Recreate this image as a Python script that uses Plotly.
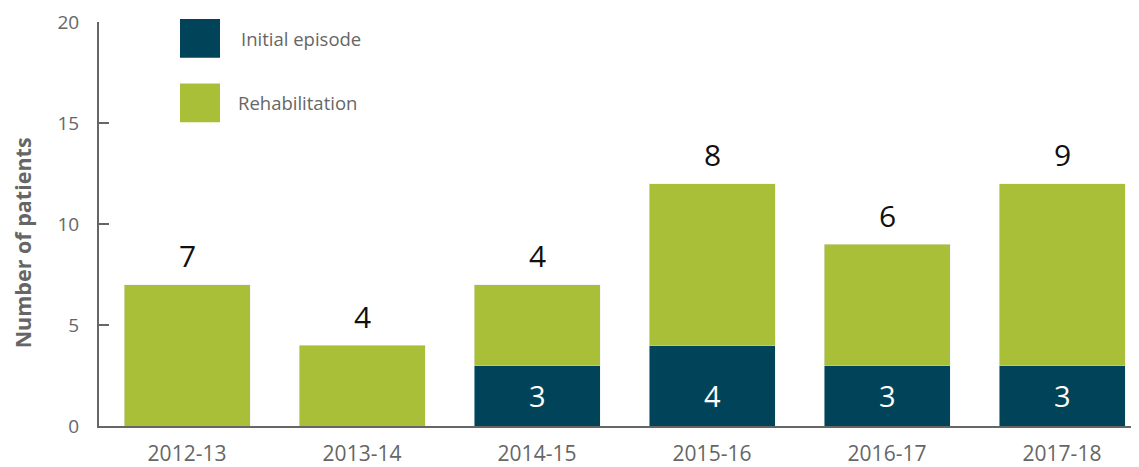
import plotly.graph_objects as go

years = ["2012-13", "2013-14", "2014-15", "2015-16", "2016-17", "2017-18"]
initial_episode = [0, 0, 3, 4, 3, 3]
rehabilitation = [7, 4, 4, 8, 6, 9]
y_ticks = [0, 5, 10, 15, 20]

DARK = "#014459"
GREEN = "#A9BF38"
GREY = "#666666"
FONT = "'Open Sans', 'Noto Sans', sans-serif"

OFF = 8  # page body margin
W, H = 1139 - OFF, 467 - OFF
L, R, T, B = 99 - OFF, 0, 22 - OFF, 467 - 429
pw, ph = W - L - R, H - T - B

def px(x):
    return (x - OFF - L) / pw

def py(y):
    return (H - B - (y - OFF)) / ph

fig = go.Figure()
fig.add_bar(
    x=years, y=initial_episode, name="Initial episode", marker_color=DARK,
    width=0.72, showlegend=False,
)
fig.add_bar(
    x=years, y=rehabilitation, name="Rehabilitation", marker_color=GREEN,
    width=0.72, showlegend=False,
)

annotations = []
for yr, a, b in zip(years, initial_episode, rehabilitation):
    annotations.append(dict(
        x=yr, y=a + b, xref="x", yref="y", text=str(b), showarrow=False,
        yanchor="middle", yshift=29, font=dict(size=30, color="#111111", family=FONT),
    ))
    if a:
        # value labels inside the dark segments sit at a common height near the base
        annotations.append(dict(
            x=yr, y=0, xref="x", yref="y", text=str(a), showarrow=False,
            yanchor="middle", yshift=31, font=dict(size=29, color="white", family=FONT),
        ))

annotations.append(dict(
    x=px(22), y=py(245), xref="paper", yref="paper", text="<b>Number of patients</b>",
    textangle=-90, showarrow=False, xanchor="center", yanchor="middle",
    font=dict(size=21.5, color=GREY, family=FONT),
))

# legend
shapes = []
legend_items = [("Initial episode", DARK, 19, 58, 239), ("Rehabilitation", GREEN, 84, 123, 236)]
for name, col, y0, y1, tx in legend_items:
    shapes.append(dict(type="rect", xref="paper", yref="paper",
                       x0=px(180), x1=px(220), y0=py(y1), y1=py(y0),
                       fillcolor=col, line=dict(width=0)))
    annotations.append(dict(
        x=px(tx), y=py((y0 + y1) / 2), xref="paper", yref="paper", text=name,
        showarrow=False, xanchor="left", yanchor="middle",
        font=dict(size=18.5, color=GREY, family=FONT),
    ))

fig.update_layout(
    width=W, height=H,
    margin=dict(l=L, r=R, t=T, b=B, pad=0),
    barmode="stack",
    plot_bgcolor="white", paper_bgcolor="white",
    font=dict(family=FONT, color=GREY),
    annotations=annotations, shapes=shapes,
    showlegend=False,
)
fig.update_xaxes(
    range=[-0.503, 5.44], showline=True, linecolor=GREY, linewidth=2,
    ticks="", showgrid=False, tickfont=dict(size=21, color=GREY, family=FONT),
    ticklabelstandoff=8,
)
fig.update_yaxes(
    range=[0, 20], tickvals=y_ticks, showline=True, linecolor=GREY, linewidth=2,
    ticks="inside", ticklen=10, tickwidth=2, tickcolor=GREY, showgrid=False,
    zeroline=False, tickfont=dict(size=19, color=GREY, family=FONT),
    ticklabelstandoff=14,
)

fig.write_html("out.html")
